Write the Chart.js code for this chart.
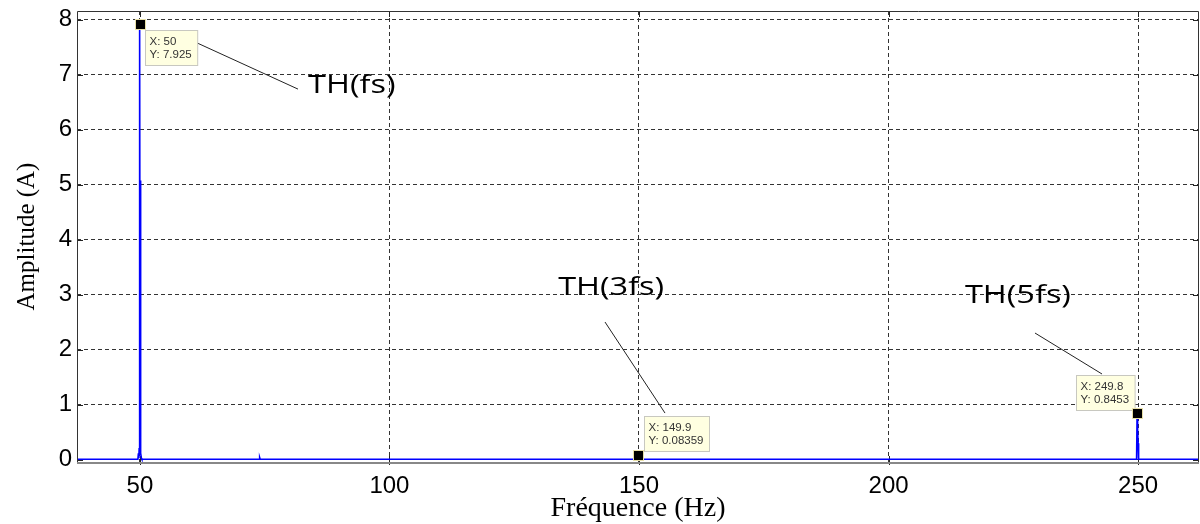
<!DOCTYPE html>
<html lang="fr">
<head>
  <meta charset="UTF-8">
  <title>Spectre du courant</title>
  <script src="https://cdn.jsdelivr.net/npm/chart.js"></script>
  <style>
    body { margin: 0; background: #fff; }
    #wrap { width: 1200px; height: 524px; }
  </style>
</head>
<body>
  <div id="wrap"><canvas id="graphique" width="1200" height="524"></canvas></div>

  <script>
    // spectre (Hz / A)
    const freq = [37.4, 49.6, 49.7, 49.8, 49.85, 49.9, 49.95, 50, 50.05, 50.1, 50.2, 50.3, 50.4,
                  73.9, 74.0, 74.1, 149.7, 149.8, 149.9, 150.0, 150.1,
                  249.6, 249.7, 249.8, 249.9, 250.0, 250.1, 262.2];
    const amp  = [0.01, 0.01, 0.12, 0.03, 0.2, 3.55, 0.3, 7.925, 0.4, 5.08, 0.12, 0.03, 0.01,
                  0.01, 0.04, 0.01, 0.01, 0.02, 0.0836, 0.02, 0.01,
                  0.01, 0.05, 0.8453, 0.55, 0.3, 0.01, 0.01];

    const xTicks = [50, 100, 150, 200, 250];
    const yTicks = [0, 1, 2, 3, 4, 5, 6, 7, 8];

    // data tips
    const tipX = [50, 149.9, 249.8];
    const tipY = [7.925, 0.08359, 0.8453];
    const tipSide = ['br', 'tr', 'tl'];

    // annotations
    const annotText = ['TH(fs)', 'TH(3fs)', 'TH(5fs)'];
    const annotX = [83.7, 133.8, 215.3];
    const annotY = [6.67, 3.0, 2.85];
    const leadFrom = [[61.44, 7.58], [143.19, 2.505], [242.77, 1.56]];
    const leadTo   = [[81.68, 6.74], [155.21, 0.85], [229.34, 2.305]];

    const points = freq.map((f, i) => ({ x: f, y: amp[i] }));

    const habillage = {
      id: 'habillage',
      beforeDatasetsDraw(chart) {
        const { ctx, chartArea: a, scales: { x, y } } = chart;
        ctx.save();
        ctx.strokeStyle = '#222';
        ctx.lineWidth = 1;
        ctx.beginPath();
        xTicks.forEach(v => {
          const px = Math.round(x.getPixelForValue(v)) + 0.5;
          ctx.moveTo(px, a.bottom + 3); ctx.lineTo(px, a.bottom - 6);
          ctx.moveTo(px, a.top); ctx.lineTo(px, a.top + 6);
        });
        yTicks.forEach(v => {
          const py = Math.round(y.getPixelForValue(v)) + 0.5;
          ctx.moveTo(a.left, py); ctx.lineTo(a.left + 6, py);
          ctx.moveTo(a.right, py); ctx.lineTo(a.right - 6, py);
        });
        ctx.stroke();
        ctx.restore();
      },
      afterDatasetsDraw(chart) {
        const { ctx, chartArea: a, scales: { x, y } } = chart;
        ctx.save();
        // cadre
        ctx.strokeStyle = '#333';
        ctx.lineWidth = 1;
        ctx.beginPath();
        ctx.moveTo(a.left + 0.5, a.bottom);
        ctx.lineTo(a.left + 0.5, a.top + 0.5);
        ctx.lineTo(a.right - 0.5, a.top + 0.5);
        ctx.lineTo(a.right - 0.5, a.bottom);
        ctx.stroke();
        ctx.strokeStyle = '#888';
        ctx.lineWidth = 2;
        ctx.beginPath();
        ctx.moveTo(a.left, a.bottom + 1);
        ctx.lineTo(a.right, a.bottom + 1);
        ctx.stroke();

        // traits de rappel
        ctx.strokeStyle = '#222';
        ctx.lineWidth = 1;
        leadFrom.forEach((p, i) => {
          ctx.beginPath();
          ctx.moveTo(x.getPixelForValue(p[0]), y.getPixelForValue(p[1]));
          ctx.lineTo(x.getPixelForValue(leadTo[i][0]), y.getPixelForValue(leadTo[i][1]));
          ctx.stroke();
        });

        // textes TH(...)
        ctx.fillStyle = '#000';
        ctx.font = '500 25px "Open Sans"';
        ctx.textBaseline = 'alphabetic';
        annotText.forEach((t, i) => {
          ctx.save();
          ctx.translate(x.getPixelForValue(annotX[i]), y.getPixelForValue(annotY[i]));
          ctx.scale(1.3, 1);
          ctx.fillText(t, 0, 0);
          ctx.restore();
        });

        // data tips
        ctx.font = '10px "Liberation Sans"';
        tipX.forEach((vx, i) => {
          const px = x.getPixelForValue(vx);
          const py = y.getPixelForValue(tipY[i]);
          const l1 = 'X: ' + vx, l2 = 'Y: ' + tipY[i];
          const w = Math.max(ctx.measureText(l1).width, ctx.measureText(l2).width) * 1.15 + 10;
          const h = 35;
          let bx, by;
          if (tipSide[i] === 'br') { bx = px + 5; by = py + 6; }
          else if (tipSide[i] === 'tr') { bx = px + 6; by = py - 39; }
          else { bx = px - w - 3; by = py - 38; }
          bx = Math.round(bx) + 0.5; by = Math.round(by) + 0.5;
          ctx.fillStyle = '#ffffe1';
          ctx.strokeStyle = '#c8c8c0';
          ctx.fillRect(bx, by, w, h);
          ctx.strokeRect(bx, by, w, h);
          ctx.fillStyle = '#333';
          [l1, l2].forEach((s, k) => {
            ctx.save();
            ctx.translate(bx + 4, by + 14 + k * 13);
            ctx.scale(1.15, 1);
            ctx.fillText(s, 0, 0);
            ctx.restore();
          });
          // marqueur
          ctx.fillStyle = '#e8e0a8';
          ctx.fillRect(Math.round(px) - 5, Math.round(py) - 5, 11, 11);
          ctx.fillStyle = '#000';
          ctx.fillRect(Math.round(px) - 4, Math.round(py) - 4, 9, 9);
        });
        ctx.restore();
      }
    };

    new Chart(document.getElementById('graphique'), {
      type: 'line',
      data: {
        datasets: [{
          data: points,
          borderColor: '#0000ff',
          borderWidth: 1.6,
          pointRadius: 0,
          tension: 0,
          fill: false
        }]
      },
      options: {
        responsive: false,
        animation: false,
        layout: { padding: { top: 11, right: 1, left: 0, bottom: 0 } },
        plugins: { legend: { display: false }, tooltip: { enabled: false } },
        scales: {
          x: {
            type: 'linear',
            min: 37.4,
            max: 262.2,
            afterBuildTicks: s => { s.ticks = xTicks.map(v => ({ value: v })); },
            afterFit: s => { s.height = 62; s.paddingLeft = 0; s.paddingRight = 0; },
            grid: { color: '#333', lineWidth: 1, drawTicks: false },
            border: { display: false, dash: [4, 3] },
            ticks: { color: '#000', padding: 10, font: { family: '"Liberation Sans", Arial', size: 24 }, maxRotation: 0 },
            title: { display: true, text: 'Fréquence (Hz)', color: '#000', padding: { top: 0, bottom: 0 },
                     font: { family: '"Liberation Serif", "Times New Roman"', size: 28, lineHeight: 1.1 } }
          },
          y: {
            min: -0.04,
            max: 8.16,
            afterBuildTicks: s => { s.ticks = yTicks.map(v => ({ value: v })); },
            afterFit: s => { s.width = 77; s.paddingTop = 0; s.paddingBottom = 0; },
            grid: { color: '#333', lineWidth: 1, drawTicks: false },
            border: { display: false, dash: [4, 3] },
            ticks: { color: '#000', padding: 5, font: { family: '"Liberation Sans", Arial', size: 24 } },
            title: { display: true, text: 'Amplitude (A)', color: '#000', padding: { top: 12, bottom: 0 },
                     font: { family: '"Liberation Serif", "Times New Roman"', size: 25, lineHeight: 1.2 } }
          }
        }
      },
      plugins: [habillage]
    });
  </script>
</body>
</html>
